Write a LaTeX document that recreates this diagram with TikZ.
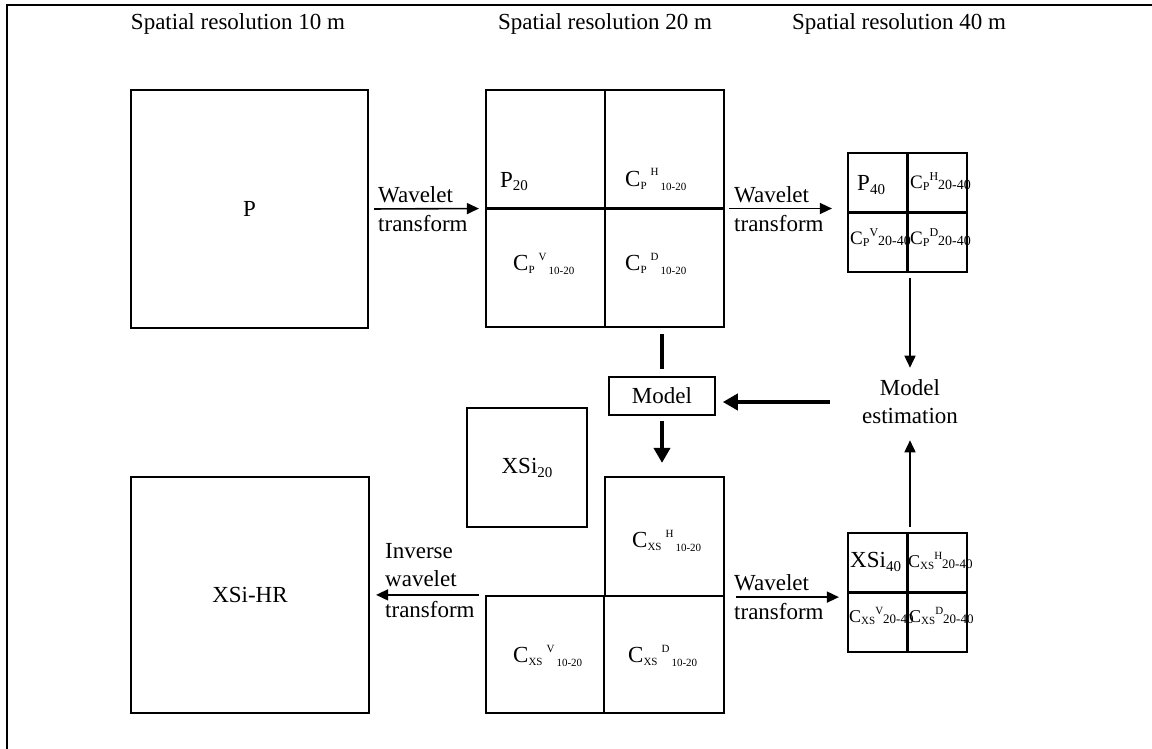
\documentclass[tikz,border=0pt]{standalone}
\usepackage{fontspec}
\setmainfont{Liberation Serif}
\usetikzlibrary{arrows.meta}
\newcommand{\fsz}[2]{{\fontsize{#1}{#1}\selectfont #2}}
% coefficient label, 20 m boxes
\newcommand{\cA}[3]{C\raisebox{-3pt}{\fsz{11}{#1}}\hspace{4pt}\raisebox{10pt}{\fsz{11}{#2}}\hspace{2pt}\raisebox{-4pt}{\fsz{11}{#3}}}
% coefficient label, 40 m boxes
\newcommand{\cB}[3]{\fsz{19}{C}\raisebox{-2pt}{\fsz{12}{#1}}\raisebox{8pt}{\fsz{12}{#2}}\raisebox{-1pt}{\fsz{14}{#3}}}
\newcommand{\cBs}[3]{\fsz{18}{C}\raisebox{-2pt}{\fsz{11}{#1}}\raisebox{8pt}{\fsz{11}{#2}}\raisebox{-1pt}{\fsz{13}{#3}}}
\begin{document}
\begin{tikzpicture}[x=1pt,y=-1pt,
  every node/.style={font=\fontsize{23}{28}\selectfont},
  box/.style={draw,line width=2.2pt,inner sep=0pt},
  lbl/.style={inner sep=0pt,anchor=base west},
  div/.style={line width=2.2pt},
  arr/.style={line width=1.6pt,-{Triangle[length=12pt,width=11pt]}},
  thickln/.style={line width=4.5pt},
  thickarr/.style={line width=4.5pt,-{Triangle[length=15pt,width=16pt]}},
  hdr/.style={inner sep=0pt,anchor=base}]
\useasboundingbox (0,0) rectangle (1152,749);
\draw[line width=2.5pt] (7,749) -- (7,5) -- (1152,5);

% headers
\node[hdr] (h10) at (238,30) {Spatial resolution 10 m};
\node[hdr] (h20) at (605,30) {Spatial resolution 20 m};
\node[hdr] (h40) at (899,30) {Spatial resolution 40 m};

% P box
\node[box,minimum width=237pt,minimum height=238pt] (P) at (249.5,209) {P};

% 20 m box (top)
\node[box,minimum width=238pt,minimum height=237pt] (b20) at (605,208.5) {};
\draw[div] (b20.north) -- (b20.south);
\draw[div] (b20.west) -- (b20.east);
\node[lbl] (p20) at (500,187) {P\raisebox{-4pt}{\fsz{15}{20}}};
\node[lbl] (cph) at (625,186) {\cA{P}{H}{10-20}};
\node[lbl] (cpv) at (513,270) {\cA{P}{V}{10-20}};
\node[lbl] (cpd) at (625,270) {\cA{P}{D}{10-20}};

% 40 m box (top)
\node[box,minimum width=119pt,minimum height=119pt] (b40) at (907.5,212.5) {};
\draw[div] (b40.north) -- (b40.south);
\draw[div] (b40.west) -- (b40.east);
\node[lbl] (p40) at (857,190) {P\raisebox{-4pt}{\fsz{15}{40}}};
\node[lbl] (cph4) at (910,189) {\cB{P}{H}{20-40}};
\node[lbl] (cpv4) at (850,244) {\cB{P}{V}{20-40}};
\node[lbl] (cpd4) at (910,244) {\cB{P}{D}{20-40}};

% wavelet arrows (top)
\draw[arr,shorten <=5pt,shorten >=6pt] (P.east) -- (b20.west);
\node[lbl] (wt1a) at (378,203) {Wavelet};
\node[lbl] (wt1b) at (378,232) {transform};
\draw[arr,shorten <=4pt,shorten >=15pt] (b20.east) -- (b20.east -| b40.west);
\node[lbl] (wt2a) at (734,203) {Wavelet};
\node[lbl] (wt2b) at (734,232) {transform};

% model and estimation
\node[box,line width=1.6pt,minimum width=106pt,minimum height=38pt] (model) at (662,396) {Model};
\node[inner sep=0pt,align=center] (est) at (910,402) {Model\\estimation};
\draw[arr,shorten <=5pt,shorten >=12pt] (est.north |- b40.south) -- (est.north);
\draw[thickln,shorten <=6pt,shorten >=7pt] (b20.south -| model.north) -- (model.north);
\draw[thickarr,shorten <=32pt,shorten >=7pt] (est.west) -- (est.west -| model.east);

% XSi20 box
\node[box,minimum width=120pt,minimum height=119pt] (xsi20) at (527,467.5) {XSi\raisebox{-4pt}{\fsz{15}{20}}};

% lower 20 m structure
\node[box,minimum width=119pt,minimum height=119pt] (cH) at (664.5,536.5) {};
\node[box,minimum width=238pt,minimum height=117pt] (bot) at (605,654.5) {};
\draw[div] (cH.south west) -- (bot.south -| cH.south west);
\node[lbl] (cxh) at (632,547) {\cA{XS}{H}{10-20}};
\node[lbl] (cxv) at (513,662) {\cA{XS}{V}{10-20}};
\node[lbl] (cxd) at (628,662) {\cA{XS}{D}{10-20}};
\draw[thickarr,shorten <=5pt,shorten >=13pt] (model.south) -- (model.south |- cH.north);

% XSi-HR box
\node[box,minimum width=238pt,minimum height=236pt] (hr) at (250,595) {XSi-HR};
\draw[arr,shorten <=6pt,shorten >=6pt] (bot.north west) -- (bot.north west -| hr.east);
\node[lbl] (iw1) at (385,558) {Inverse};
\node[lbl] (iw2) at (385,586) {wavelet};
\node[lbl] (iw3) at (385,617) {transform};

% 40 m box (bottom)
\node[box,minimum width=119pt,minimum height=119pt] (b40l) at (907.5,592.5) {};
\draw[div] (b40l.north) -- (b40l.south);
\draw[div] (b40l.west) -- (b40l.east);
\node[lbl] (xsi40) at (850,567) {XSi\raisebox{-4pt}{\fsz{15}{40}}};
\node[lbl] (cxh4) at (908,567) {\cBs{XS}{H}{20-40}};
\node[lbl] (cxv4) at (849,622) {\cBs{XS}{V}{20-40}};
\node[lbl] (cxd4) at (909,622) {\cBs{XS}{D}{20-40}};
\draw[arr,shorten <=11pt,shorten >=8pt] (cH.south east) -- (cH.south east -| b40l.west);
\node[lbl] (wt3a) at (734,590) {Wavelet};
\node[lbl] (wt3b) at (734,619) {transform};
\draw[arr,shorten <=5pt,shorten >=16pt] (est.south |- b40l.north) -- (est.south);
\end{tikzpicture}
\end{document}
